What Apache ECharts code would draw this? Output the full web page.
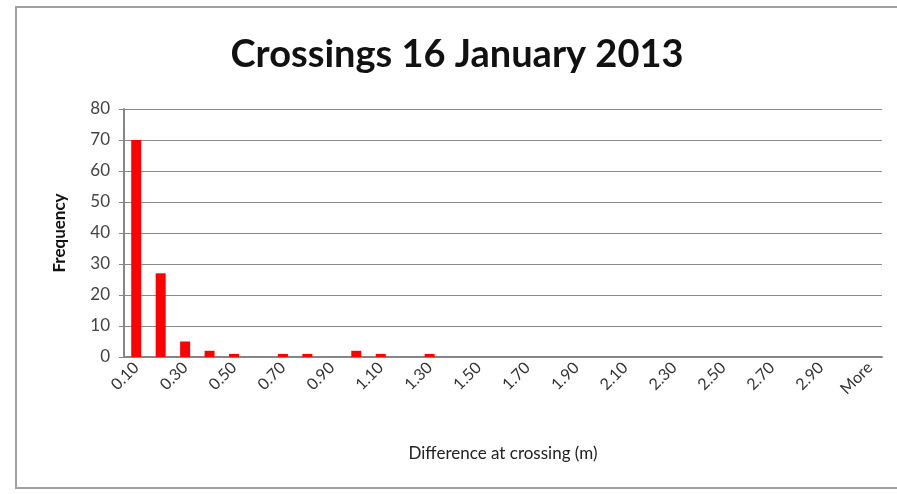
<!DOCTYPE html>
<html>
<head>
<meta charset="UTF-8">
<title>Crossings 16 January 2013</title>
<style type="text/css">
  * {margin: 0; padding: 0;}
  body {background: #fff;}
  #chart {position: absolute; left: 15px; top: 6px; width: 882px; height: 483px; border: 2px solid #a0a0a0; border-right: none; box-sizing: border-box;}
</style>
</head>
<body>
<div id="chart"></div>
<script src="https://cdn.jsdelivr.net/npm/echarts@6/dist/echarts.min.js"></script>
<script type="text/javascript">
// bins (m)
var bins = ['0.10','0.20','0.30','0.40','0.50','0.60','0.70','0.80','0.90','1.00',
            '1.10','1.20','1.30','1.40','1.50','1.60','1.70','1.80','1.90','2.00',
            '2.10','2.20','2.30','2.40','2.50','2.60','2.70','2.80','2.90','3.00','More'];
var frequency = [70, 27, 5, 2, 1, 0, 1, 1, 0, 2,
                 1, 0, 1, 0, 0, 0, 0, 0, 0, 0,
                 0, 0, 0, 0, 0, 0, 0, 0, 0, 0, 0];
var yTicks = [0, 10, 20, 30, 40, 50, 60, 70, 80];

var chart = echarts.init(document.getElementById('chart'));
var font = 'Lato, "Open Sans", sans-serif';

var option = {
    animation: false,
    title: {
        text: 'Crossings 16 January 2013',
        left: 'center',
        top: 23,
        textStyle: {fontFamily: font, fontSize: 38, fontWeight: 'bold', color: '#111'}
    },
    grid: {left: 107, right: 15, top: 101, bottom: 130},
    xAxis: {
        type: 'category',
        data: bins,
        name: 'Difference at crossing (m)',
        nameLocation: 'middle',
        nameGap: 88,
        nameTextStyle: {fontFamily: font, fontSize: 17, color: '#222'},
        axisLine: {lineStyle: {color: '#868686', width: 2}},
        axisTick: {show: false},
        axisLabel: {interval: 1, rotate: 45, fontFamily: font, fontSize: 16, color: '#333', margin: 8}
    },
    yAxis: {
        type: 'value',
        min: yTicks[0],
        max: yTicks[yTicks.length - 1],
        interval: 10,
        name: 'Frequency',
        nameLocation: 'middle',
        nameGap: 56,
        nameTextStyle: {fontFamily: font, fontSize: 17, fontWeight: 'bold', color: '#111'},
        axisLine: {show: true, lineStyle: {color: '#868686', width: 2}},
        axisTick: {show: true, length: 5, lineStyle: {color: '#868686'}},
        axisLabel: {fontFamily: font, fontSize: 17, color: '#444', margin: 14},
        splitLine: {lineStyle: {color: '#8a8a8a', width: 1}}
    },
    series: [{
        type: 'bar',
        data: frequency,
        barWidth: 10,
        itemStyle: {color: '#ff0000'}
    }]
};

chart.setOption(option);
</script>
</body>
</html>
